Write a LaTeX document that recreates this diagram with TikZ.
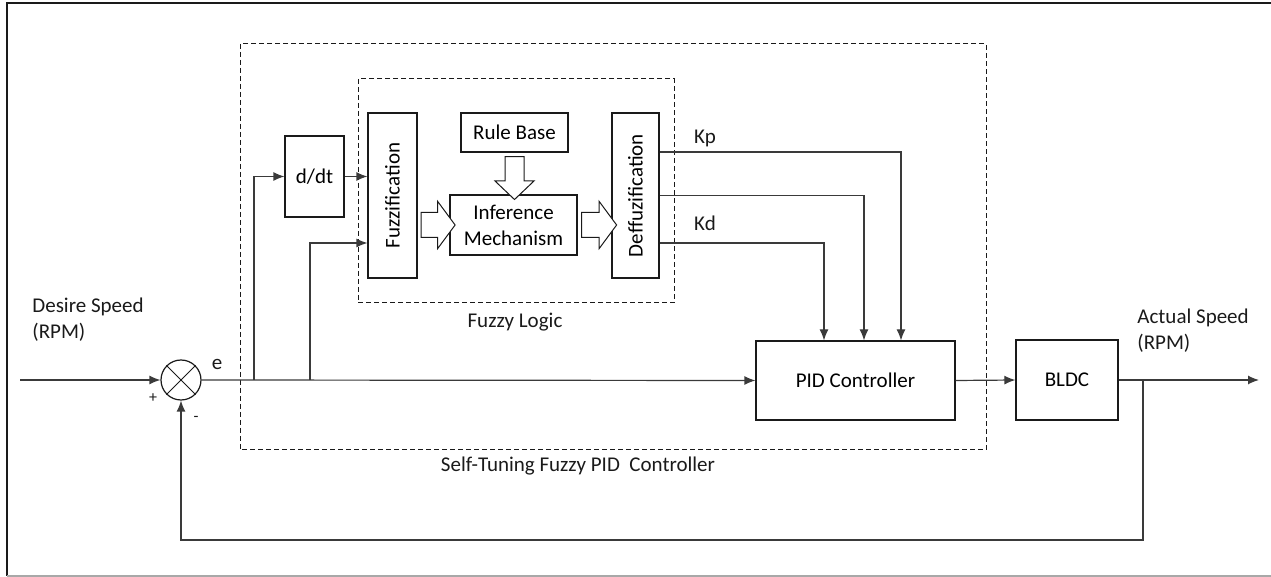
\documentclass[tikz,border=0pt]{standalone}
\usepackage{fontspec}
\setmainfont{Carlito}
\usepackage{tikz}
\usetikzlibrary{arrows.meta,positioning,calc,shapes.arrows}
\definecolor{fzink}{HTML}{1A1A1A}
\definecolor{fzline}{HTML}{3A3A3A}
\definecolor{fzframe}{HTML}{A8A8A8}

\begin{document}
\begin{tikzpicture}[x=0.5pt, y=-0.5pt, font=\fontsize{10.5}{13}\selectfont, >={Latex[length=5.5pt,width=4.5pt]},
  blk/.style={draw=fzink, line width=0.6pt, inner sep=1pt, align=center},
  m/.style={->, draw=fzline, line width=0.6pt},
  grp/.style={draw=fzink, dashed, dash pattern=on 2.5pt off 1.5pt, line width=0.5pt},
  fat/.style={single arrow, draw=fzink, line width=0.5pt, inner xsep=0pt, fill=white},
  lbl/.style={inner sep=1pt, text=fzink}]
  \useasboundingbox (0,0) rectangle (1271,577);
  % ---------- frame ----------
  \draw[fzink, line width=1pt] (7,576) -- (7,3) -- (1271,3);
  \draw[fzframe, line width=0.8pt] (7,576) -- (1271,576);
  % ---------- groups ----------
  \draw[grp] (240,44) rectangle (986,450);
  \draw[grp] (358,79) rectangle (674,303);
  \node[lbl] (fl) at (515,322) {Fuzzy Logic};
  \node[lbl] (st) at (578,466) {Self-Tuning Fuzzy PID\ \ Controller};
  % ---------- blocks ----------
  \node[draw=fzink, line width=0.6pt, circle, minimum size=20pt, inner sep=0pt] (sum) at (181,380) {};
  \draw[fzink, line width=0.5pt] (sum.45) -- (sum.225) (sum.135) -- (sum.315);
  \node[blk, minimum width=29.5pt, minimum height=40.5pt] (ddt) at (314.5,176.5) {d/dt};
  \node[blk, minimum width=24.5pt, minimum height=82.5pt] (fuzz) at (392.5,195.5) {\rotatebox{90}{Fuzzification}};
  \node[blk, minimum width=53.5pt, minimum height=19.5pt] (rule) at (514.5,132.5) {Rule Base};
  \node[blk, minimum width=63.5pt, minimum height=30pt] (inf) at (513.5,225) {Inference\\Mechanism};
  \node[blk, minimum width=23.5pt, minimum height=82.5pt] (deff) at (635.5,195.5) {\rotatebox{90}{Deffuzification}};
  \node[blk, minimum width=99.5pt, minimum height=39.5pt] (pid) at (855.5,380.5) {PID Controller};
  \node[blk, minimum width=51pt, minimum height=40pt] (bldc) at (1067,380) {BLDC};
  % ---------- hollow arrows ----------
  \node[fat, inner ysep=6pt, minimum height=17pt, single arrow head extend=5.5pt, single arrow tip angle=107]
    (a1) at ($(fuzz.east |- inf)!0.5!(inf.west)$) {};
  \node[fat, inner ysep=6pt, minimum height=17.5pt, single arrow head extend=5.5pt, single arrow tip angle=107]
    (a2) at ($(inf.east)!0.5!(deff.west |- inf)$) {};
  \node[fat, rotate=-90, inner ysep=4.5pt, minimum height=21.5pt, single arrow head extend=5pt, single arrow tip angle=93]
    (a3) at ($(rule.south)!0.5!(rule.south |- inf.north)$) {};
  % ---------- signals ----------
  \coordinate (in) at (20,380);
  \coordinate (b1) at (254,380);
  \coordinate (b2) at (310,380);
  \coordinate (tap) at (1143,380);
  \coordinate (out) at (1259,380);
  \draw[m] (in) -- (sum.west);
  \draw[m] (sum.east) -- (pid.west);
  \draw[m] (b1) |- (ddt.west);
  \draw[m] (b2) |- ([yshift=-23.75pt]fuzz.west);
  \draw[m] (ddt.east) -- (ddt.east -| fuzz.west);
  \draw[m] ([yshift=21.75pt]deff.east) -| ([xshift=22.75pt]pid.north);
  \draw[m] (deff.east) -| ([xshift=4.25pt]pid.north);
  \draw[m] ([yshift=-23.75pt]deff.east) -| ([xshift=-15.75pt]pid.north);
  \draw[m] (pid.east) -- (bldc.west);
  \draw[m] (bldc.east) -- (out);
  \draw[m] (tap) |- (sum.south |- 0,540) -- (sum.south);
  % ---------- labels ----------
  \node[lbl, anchor=west, align=left] (dsp) at (30,320) {Desire Speed\\(RPM)};
  \node[lbl, anchor=west, align=left] (asp) at (1135,331) {Actual Speed\\(RPM)};
  \node[lbl] (e) at (217,364) {e};
  \node[lbl, font=\fontsize{8}{9}\selectfont] (plus) at (153,398) {+};
  \node[lbl, font=\fontsize{8}{9}\selectfont] (minus) at (196,419) {-};
  \node[lbl] (kp) at (705,138) {Kp};
  \node[lbl] (kd) at (705,223) {Kd};
\end{tikzpicture}
\end{document}
